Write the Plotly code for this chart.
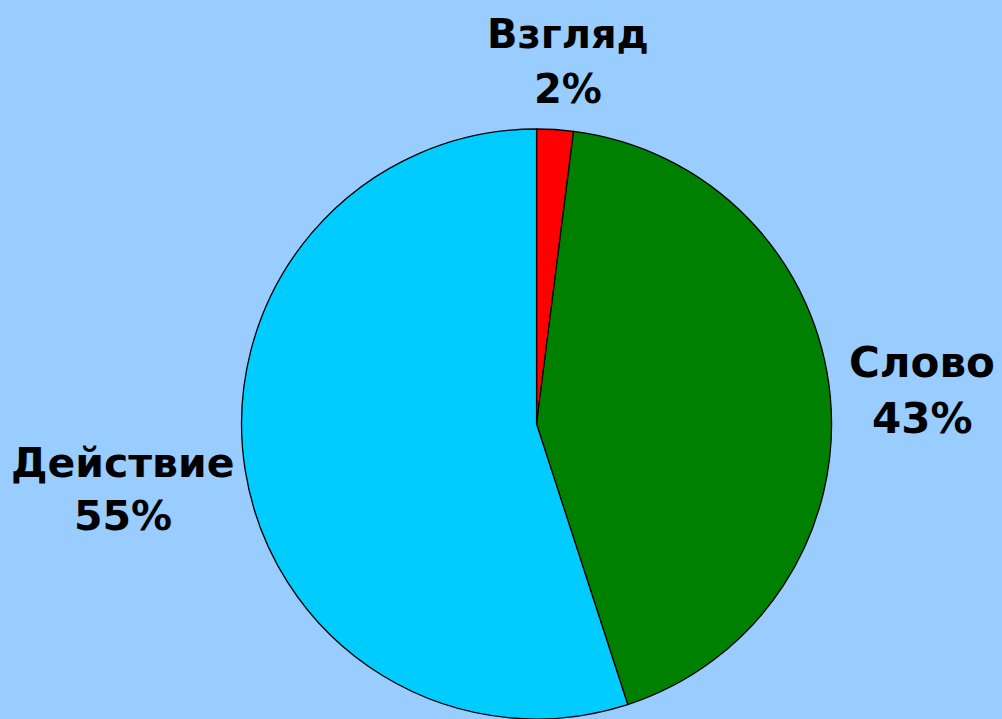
import plotly.graph_objects as go

labels = ["Взгляд", "Слово", "Действие"]
values = [2, 43, 55]
colors = ["#FF0000", "#008000", "#00CCFF"]

total = sum(values)
pct = [round(100 * v / total) for v in values]

# label layout (pixel centres of the name line and percent line, font size)
W, H = 1002, 719
label_layout = [
    dict(x=568, y_name=34, y_pct=89, size=40),
    dict(x=922, y_name=362, y_pct=418, size=42),
    dict(x=123, y_name=463, y_pct=516, size=41),
]

fig = go.Figure(go.Pie(
    labels=labels,
    values=values,
    sort=False,
    direction="clockwise",
    rotation=0,
    marker=dict(colors=colors, line=dict(color="#000000", width=1.3)),
    textinfo="none",
    showlegend=False,
    automargin=False,
    domain=dict(x=[0.241, 0.830], y=[0.0, 0.8206]),
    hoverinfo="label+percent",
))

for lab, p, lay in zip(labels, pct, label_layout):
    font = dict(family="DejaVu Sans", size=lay["size"], color="#000000", weight="bold")
    fig.add_annotation(text=lab, x=lay["x"] / W, y=1 - lay["y_name"] / H,
                       xref="paper", yref="paper", xanchor="center", yanchor="middle",
                       showarrow=False, font=font)
    fig.add_annotation(text=f"{p}%", x=lay["x"] / W, y=1 - lay["y_pct"] / H,
                       xref="paper", yref="paper", xanchor="center", yanchor="middle",
                       showarrow=False, font=font)

fig.update_layout(
    width=W,
    height=H,
    margin=dict(l=0, r=0, t=0, b=0, autoexpand=False),
    paper_bgcolor="#99CCFF",
    plot_bgcolor="#99CCFF",
)

fig.write_html(
    "out.html",
    config={"displayModeBar": False},
    post_script="document.body.style.margin='0';document.body.style.background='#99CCFF';",
)
